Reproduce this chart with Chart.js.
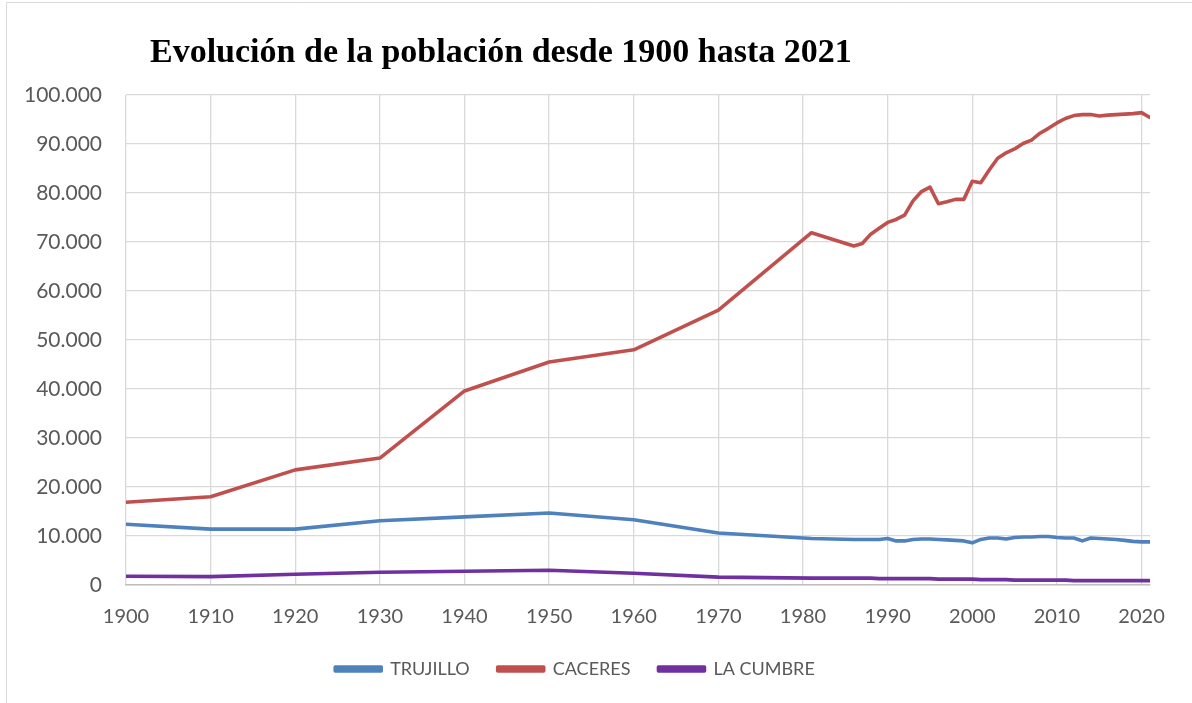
<!DOCTYPE html>
<html>
<head>
<meta charset="utf-8">
<script src="https://cdn.jsdelivr.net/npm/chart.js@4.4.1/dist/chart.umd.min.js"></script>
<style>
  html, body { margin: 0; padding: 0; background: #ffffff; }
  #wrap { width: 1192px; height: 703px; position: relative; }
</style>
</head>
<body>
<div id="wrap"><canvas id="c" width="1192" height="703"></canvas></div>
<script>
// Years with census / padrón figures
const years = [1900, 1910, 1920, 1930, 1940, 1950, 1960, 1970, 1981,
  1986, 1987, 1988, 1989, 1990, 1991, 1992, 1993, 1994, 1995, 1996, 1997, 1998, 1999,
  2000, 2001, 2002, 2003, 2004, 2005, 2006, 2007, 2008, 2009, 2010, 2011, 2012, 2013,
  2014, 2015, 2016, 2017, 2018, 2019, 2020, 2021];

const trujillo = [12400, 11400, 11400, 13100, 13900, 14700, 13300, 10600, 9500,
  9300, 9300, 9300, 9300, 9500, 9000, 9000, 9300, 9400, 9400, 9300, 9200, 9100, 9000,
  8600, 9300, 9600, 9600, 9400, 9700, 9800, 9800, 9900, 9900, 9700, 9600, 9600, 9000,
  9600, 9500, 9400, 9300, 9100, 8900, 8800, 8800];

const caceres = [16900, 18000, 23500, 25900, 39600, 45500, 48000, 56100, 71900,
  69200, 69700, 71600, 72800, 74000, 74600, 75500, 78400, 80300, 81200, 77800, 78200, 78700, 78700,
  82400, 82100, 84700, 87100, 88200, 89000, 90100, 90800, 92200, 93200, 94300, 95200, 95800, 96000,
  96000, 95700, 95900, 96000, 96100, 96200, 96400, 95400];

const laCumbre = [1800, 1700, 2200, 2600, 2800, 3000, 2400, 1600, 1400,
  1400, 1400, 1400, 1300, 1300, 1300, 1300, 1300, 1300, 1300, 1200, 1200, 1200, 1200,
  1200, 1100, 1100, 1100, 1100, 1000, 1000, 1000, 1000, 1000, 1000, 1000, 900, 900,
  900, 900, 900, 900, 900, 900, 900, 900];

const seriesNames = ['TRUJILLO', 'CACERES', 'LA CUMBRE'];
const titleText = 'Evolución de la población desde 1900 hasta 2021';

const yMin = 0, yMax = 100000, yStep = 10000;
const xMin = 1900, xMax = 2021, xStep = 10;

const colors = ['#4F81BD', '#C0504D', '#7030A0'];
const textGray = '#595959';
const tickFont = { family: 'Lato, "Open Sans", sans-serif', size: 20 };
const legendFont = { family: 'Lato, "Open Sans", sans-serif', size: 18 };

function thousands(v) {
  return String(v).replace(/\B(?=(\d{3})+(?!\d))/g, '.');
}

function pts(values) {
  return values.map((v, i) => ({ x: years[i], y: v }));
}

function lineSet(label, values, color) {
  return {
    label: label,
    data: pts(values),
    borderColor: color,
    backgroundColor: color,
    borderWidth: 3.6,
    pointRadius: 0,
    tension: 0,
    borderJoinStyle: 'round',
    borderCapStyle: 'round'
  };
}

// Frame and title drawn on the canvas
const framePlugin = {
  id: 'frame',
  beforeDraw(chart) {
    const ctx = chart.ctx;
    ctx.save();
    ctx.fillStyle = '#ffffff';
    ctx.fillRect(0, 0, chart.width, chart.height);
    ctx.strokeStyle = '#d9d9d9';
    ctx.lineWidth = 1;
    ctx.beginPath();
    ctx.moveTo(6.5, chart.height + 2);
    ctx.lineTo(6.5, 2.5);
    ctx.lineTo(chart.width + 2, 2.5);
    ctx.stroke();
    ctx.restore();
  },
  afterDraw(chart) {
    const ctx = chart.ctx;
    ctx.save();
    ctx.font = 'bold 34px "Liberation Serif", "DejaVu Serif", serif';
    ctx.fillStyle = '#000000';
    ctx.textBaseline = 'alphabetic';
    ctx.textAlign = 'left';
    ctx.fillText(titleText, 150, 62);
    ctx.restore();
  }
};

new Chart(document.getElementById('c'), {
  type: 'line',
  data: {
    datasets: [
      lineSet(seriesNames[0], trujillo, colors[0]),
      lineSet(seriesNames[1], caceres, colors[1]),
      lineSet(seriesNames[2], laCumbre, colors[2])
    ]
  },
  options: {
    responsive: false,
    animation: false,
    devicePixelRatio: 1,
    layout: { padding: { top: 95, right: 42, bottom: 15, left: 0 } },
    plugins: {
      title: { display: false },
      tooltip: { enabled: false },
      legend: {
        display: true,
        position: 'bottom',
        labels: {
          boxWidth: 46,
          boxHeight: 4,
          padding: 28,
          color: textGray,
          font: legendFont
        }
      }
    },
    scales: {
      x: {
        type: 'linear',
        min: xMin,
        max: xMax,
        afterFit(scale) { scale.height = 47; },
        ticks: {
          stepSize: xStep,
          includeBounds: false,
          padding: 20,
          color: textGray,
          font: tickFont,
          maxRotation: 0,
          callback: (v) => String(v)
        },
        grid: { color: '#d9d9d9', lineWidth: 1.3, drawTicks: false },
        border: { display: true, color: '#bfbfbf', width: 1.6 }
      },
      y: {
        min: yMin,
        max: yMax,
        afterFit(scale) { scale.width = 126; },
        ticks: {
          stepSize: yStep,
          padding: 24,
          color: textGray,
          font: { family: 'Lato, "Open Sans", sans-serif', size: 21 },
          callback: (v) => thousands(v)
        },
        grid: { color: '#d9d9d9', lineWidth: 1.3, drawTicks: false },
        border: { display: false }
      }
    }
  },
  plugins: [framePlugin]
});
</script>
</body>
</html>
